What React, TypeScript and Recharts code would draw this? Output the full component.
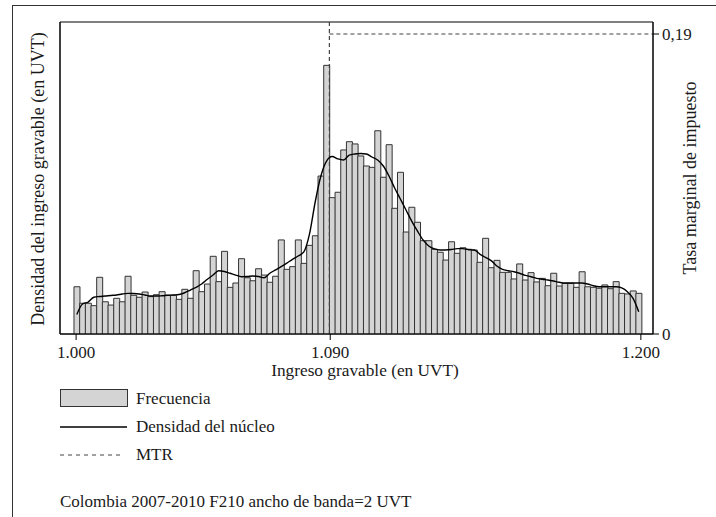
import React from 'react';
import {
    ComposedChart,
    Bar,
    Line,
    XAxis,
    YAxis,
    ReferenceLine,
    ReferenceArea,
} from 'recharts';

const FONT = '"Liberation Serif", "DejaVu Serif", serif';
const INK = '#1a1a1a';

// histogram bins in UVT (100 bins, about 2 UVT wide)
const BIN_START = 999.25;
const BIN_WIDTH = 2.01;

// bar heights (density x 1000)
const frecuencia = [
    3.15, 2.05, 2.05, 1.89, 3.78, 2.15, 1.93, 2.38, 2.15, 3.85,
    2.58, 2.45, 2.80, 2.49, 2.62, 2.82, 2.58, 2.58, 2.31, 2.98,
    2.38, 4.22, 2.82, 3.33, 5.18, 3.49, 5.51, 3.11, 3.40, 5.02,
    3.75, 3.55, 4.35, 3.93, 3.45, 3.85, 6.27, 4.31, 4.49, 6.27,
    4.71, 5.91, 6.55, 10.53, 17.91, 9.09, 9.45, 12.27, 12.82, 12.67,
    11.87, 11.20, 11.11, 13.55, 10.45, 12.62, 8.38, 10.78, 6.80, 8.45,
    7.45, 6.22, 6.22, 5.65, 5.45, 4.93, 6.15, 5.38, 5.75, 5.65,
    5.60, 4.78, 6.38, 4.42, 4.91, 4.11, 4.11, 3.67, 4.67, 3.60,
    4.09, 3.47, 3.71, 3.22, 4.05, 3.20, 3.38, 3.38, 3.11, 4.15,
    3.15, 3.11, 3.05, 3.27, 3.02, 3.49, 2.71, 2.67, 2.87, 2.71,
];

// kernel density at each bin centre (x 1000)
const densidadNucleo = [
    1.30, 2.00, 2.13, 2.45, 2.50, 2.53, 2.57, 2.60, 2.67, 2.71,
    2.70, 2.67, 2.60, 2.53, 2.53, 2.55, 2.58, 2.60, 2.63, 2.75,
    2.93, 3.11, 3.33, 3.65, 3.93, 4.22, 4.17, 4.05, 3.93, 3.82,
    3.83, 3.87, 3.83, 3.75, 4.05, 4.27, 4.49, 4.73, 4.98, 5.20,
    5.47, 6.67, 8.80, 10.53, 11.53, 11.83, 11.67, 11.60, 11.93, 12.00,
    12.03, 12.00, 11.80, 11.60, 11.20, 10.53, 9.73, 9.00, 8.27, 7.53,
    6.87, 6.27, 5.87, 5.67, 5.60, 5.60, 5.63, 5.69, 5.69, 5.62,
    5.60, 5.33, 5.11, 4.89, 4.53, 4.31, 4.22, 4.15, 4.05, 3.91,
    3.82, 3.71, 3.65, 3.60, 3.53, 3.45, 3.40, 3.40, 3.40, 3.40,
    3.33, 3.22, 3.15, 3.15, 3.15, 3.15, 3.07, 2.82, 2.38, 1.49,
];

const xTicks = [1000, 1090, 1200];
const densityTicks = [0, 5, 10, 15, 20];
const mtrTicks = [0, 0.19];

const X_DOMAIN = [994.3, 1204.3];
const DENSITY_MAX = 20.8;
const MTR_MAX = 0.1976;
const MTR_THRESHOLD = 1089.7;
const MTR_RATE = 0.19;

const data = frecuencia.map((f, i) => ({
    x: +(BIN_START + BIN_WIDTH * (i + 0.5)).toFixed(3),
    frecuencia: f,
    densidad: densidadNucleo[i],
}));

const fmtX = (v: number) => (v / 1000).toFixed(3);
const fmtMtr = (v: number) => (v === 0 ? '0' : String(v).replace('.', ','));

const textStyle: React.CSSProperties = {
    position: 'absolute',
    fontFamily: FONT,
    fontSize: 17,
    lineHeight: '20px',
    color: INK,
    whiteSpace: 'nowrap',
};

// centred, optionally rotated title
const titleAt = (x: number, y: number, rotate: number, size = 18): React.CSSProperties => ({
    ...textStyle,
    fontSize: size,
    left: x,
    top: y,
    transform: `translate(-50%, -50%) rotate(${rotate}deg)`,
});

export default function App() {
    const tick = { fill: INK, fontSize: 17, fontFamily: FONT };
    return (
        <div style={{ position: 'absolute', left: 0, top: 0, width: 716, height: 517, background: '#fff', overflow: 'hidden' }}>
            <div style={{ position: 'absolute', left: 12, top: 5, width: 720, height: 530, borderTop: '1px solid #333', borderLeft: '1px solid #333' }} />
            <div style={{ position: 'absolute', left: 0, top: 0 }}>
                <ComposedChart width={716} height={380} data={data} margin={{ top: 22, right: 0, bottom: 0, left: 0 }} barCategoryGap={0} barGap={0}>
                    <XAxis
                        dataKey='x'
                        type='number'
                        domain={X_DOMAIN}
                        ticks={xTicks}
                        tickFormatter={fmtX}
                        height={46}
                        tick={tick}
                        tickSize={6}
                        tickMargin={6}
                        axisLine={{ stroke: '#000' }}
                        tickLine={{ stroke: '#000' }}
                        allowDataOverflow
                    />
                    <YAxis
                        yAxisId='left'
                        width={60}
                        domain={[0, DENSITY_MAX]}
                        ticks={densityTicks}
                        tick={false}
                        tickSize={7}
                        axisLine={{ stroke: '#000' }}
                        tickLine={{ stroke: '#000' }}
                        allowDataOverflow
                    />
                    <YAxis
                        yAxisId='right'
                        orientation='right'
                        width={63}
                        domain={[0, MTR_MAX]}
                        ticks={mtrTicks}
                        tickFormatter={fmtMtr}
                        tick={tick}
                        tickSize={6}
                        tickMargin={3}
                        axisLine={{ stroke: '#000' }}
                        tickLine={{ stroke: '#000' }}
                        allowDataOverflow
                    />
                    <ReferenceArea yAxisId='left' y1={0} y2={DENSITY_MAX} fill='none' stroke='#000' strokeWidth={1} ifOverflow='visible' />
                    <Bar yAxisId='left' dataKey='frecuencia' fill='#d4d4d4' stroke='#333' strokeWidth={1} isAnimationActive={false} />
                    <ReferenceLine yAxisId='left' x={MTR_THRESHOLD} stroke='#444' strokeWidth={1.2} strokeDasharray='4 3' />
                    <ReferenceLine
                        yAxisId='right'
                        segment={[{ x: MTR_THRESHOLD, y: MTR_RATE }, { x: X_DOMAIN[1], y: MTR_RATE }]}
                        stroke='#444'
                        strokeWidth={1.2}
                        strokeDasharray='4 3'
                    />
                    <Line yAxisId='left' type='monotone' dataKey='densidad' stroke='#000' strokeWidth={1.4} dot={false} isAnimationActive={false} />
                </ComposedChart>
            </div>

            <div style={titleAt(38, 179, -90)}>Densidad del ingreso gravable (en UVT)</div>
            <div style={titleAt(690, 178, -90)}>Tasa marginal de impuesto</div>
            <div style={titleAt(365, 371, 0, 17.3)}>Ingreso gravable (en UVT)</div>

            <div style={{ position: 'absolute', left: 60, top: 389, width: 66, height: 16, background: '#d4d4d4', border: '1px solid #333' }} />
            <div style={{ ...textStyle, left: 136, top: 389 }}>Frecuencia</div>
            <svg style={{ position: 'absolute', left: 60, top: 420 }} width={70} height={14}>
                <line x1={0} y1={7} x2={67} y2={7} stroke='#000' strokeWidth={1.5} />
            </svg>
            <div style={{ ...textStyle, left: 136, top: 417 }}>Densidad del núcleo</div>
            <svg style={{ position: 'absolute', left: 60, top: 448 }} width={70} height={14}>
                <line x1={0} y1={7} x2={64} y2={7} stroke='#444' strokeWidth={1.2} strokeDasharray='4 4' />
            </svg>
            <div style={{ ...textStyle, left: 136, top: 445 }}>MTR</div>
            <div style={{ ...textStyle, left: 60, top: 492 }}>Colombia 2007-2010 F210 ancho de banda=2 UVT</div>
        </div>
    );
}
